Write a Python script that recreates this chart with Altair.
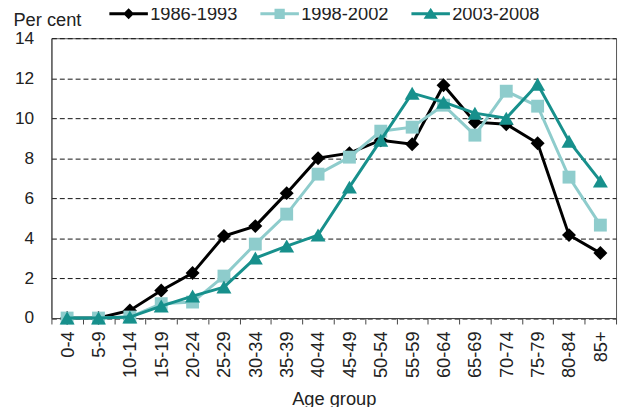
import altair as alt
import pandas as pd

categories = ["0-4", "5-9", "10-14", "15-19", "20-24", "25-29", "30-34", "35-39",
              "40-44", "45-49", "50-54", "55-59", "60-64", "65-69", "70-74",
              "75-79", "80-84", "85+"]
series_names = ["1986-1993", "1998-2002", "2003-2008"]
v1986 = [0, 0, 0.38, 1.38, 2.25, 4.1, 4.6, 6.25, 8.0, 8.25, 8.9, 8.7, 11.65, 9.8, 9.7, 8.75, 4.15, 3.25]
v1998 = [0, 0, 0.05, 0.72, 0.8, 2.1, 3.7, 5.2, 7.2, 8.05, 9.35, 9.55, 10.65, 9.15, 11.35, 10.6, 7.05, 4.65]
v2003 = [0, 0, 0.05, 0.6, 1.1, 1.55, 3.0, 3.6, 4.15, 6.55, 8.9, 11.25, 10.8, 10.25, 10.0, 11.7, 8.85, 6.85]
y_ticks = [0, 2, 4, 6, 8, 10, 12, 14]

colors = ["#000000", "#8ECCCC", "#17908C"]
marker_shapes = ["diamond", "square", "triangle-up"]
marker_sizes = [200, 170, 230]
# legend symbols: a line with the series marker in the middle
legend_shapes = [
    "M-1.95,-0.15L1.95,-0.15L1.95,0.15L-1.95,0.15Z M0,-0.55L0.55,0L0,0.55L-0.55,0Z",
    "M-1.95,-0.15L1.95,-0.15L1.95,0.15L-1.95,0.15Z M-0.52,-0.52L0.52,-0.52L0.52,0.52L-0.52,0.52Z",
    "M-1.95,-0.15L1.95,-0.15L1.95,0.15L-1.95,0.15Z M0,-0.6L0.72,0.5L-0.72,0.5Z",
]

rows = []
for name, vals in zip(series_names, [v1986, v1998, v2003]):
    for c, v in zip(categories, vals):
        rows.append({"age": c, "series": name, "value": v})
df = pd.DataFrame(rows)

FONT = "Liberation Sans"
TXT = "#222222"

x_enc = alt.X(
    "age:N", sort=categories,
    scale=alt.Scale(type="band", domain=categories, paddingInner=0, paddingOuter=0),
    axis=alt.Axis(title="Age group", labelAngle=270, tickBand="extent", ticks=True,
                  tickSize=6, tickColor="#444444", domainColor="#444444",
                  labelPadding=7, labelFont=FONT, labelFontSize=18.5, labelColor=TXT,
                  titleFont=FONT, titleFontSize=18.5, titleFontWeight="normal",
                  titleColor=TXT, titlePadding=12, grid=False, labelOverlap=False),
)
y_enc = alt.Y(
    "value:Q",
    scale=alt.Scale(domain=[0, 14], nice=False, zero=True),
    axis=alt.Axis(title="Per cent", values=y_ticks, ticks=False, labelPadding=18,
                  labelFont=FONT, labelFontSize=17.5, labelColor=TXT,
                  domainColor="#444444", grid=True, gridColor="#111111",
                  gridDash=[5, 3], gridWidth=1,
                  titleAngle=0, titleAlign="left", titleBaseline="alphabetic",
                  titleX=-39, titleY=-13, titleFont=FONT, titleFontSize=18.5,
                  titleFontWeight="normal", titleColor=TXT),
)

base = alt.Chart(df)
layers = []
for name, col, shp, sz in zip(series_names, colors, marker_shapes, marker_sizes):
    sub = base.transform_filter(alt.datum.series == name)
    layers.append(sub.mark_line(color=col, strokeWidth=3).encode(x=x_enc, y=y_enc))
    layers.append(sub.mark_point(shape=shp, filled=True, color=col, size=sz,
                                 opacity=1, strokeWidth=0).encode(x=x_enc, y=y_enc))

leg = dict(orient="none", legendX=68.2, legendY=-35, direction="horizontal",
           columns=3, title=None, symbolSize=400, labelFont=FONT,
           labelFontSize=18.5, labelColor=TXT, labelOffset=11.8, columnPadding=22,
           padding=0, symbolStrokeWidth=0, symbolOpacity=1)
legend_layer = base.transform_filter("datum.value < -100").mark_point(
    filled=True, opacity=1).encode(
    x=x_enc, y=y_enc,
    color=alt.Color("series:N", scale=alt.Scale(domain=series_names, range=colors),
                    legend=alt.Legend(**leg)),
    shape=alt.Shape("series:N", scale=alt.Scale(domain=series_names, range=legend_shapes),
                    legend=alt.Legend(**leg)),
)
layers.append(legend_layer)

chart = alt.layer(*layers).properties(
    width=572, height=283.5,
    padding={"left": 44, "top": 28, "right": 4, "bottom": 88},
    autosize=alt.AutoSizeParams(type="none"),
    background="white",
).configure_view(stroke="#555555", strokeWidth=1)

chart.save("out.html", embed_options={"renderer": "svg", "actions": False})
